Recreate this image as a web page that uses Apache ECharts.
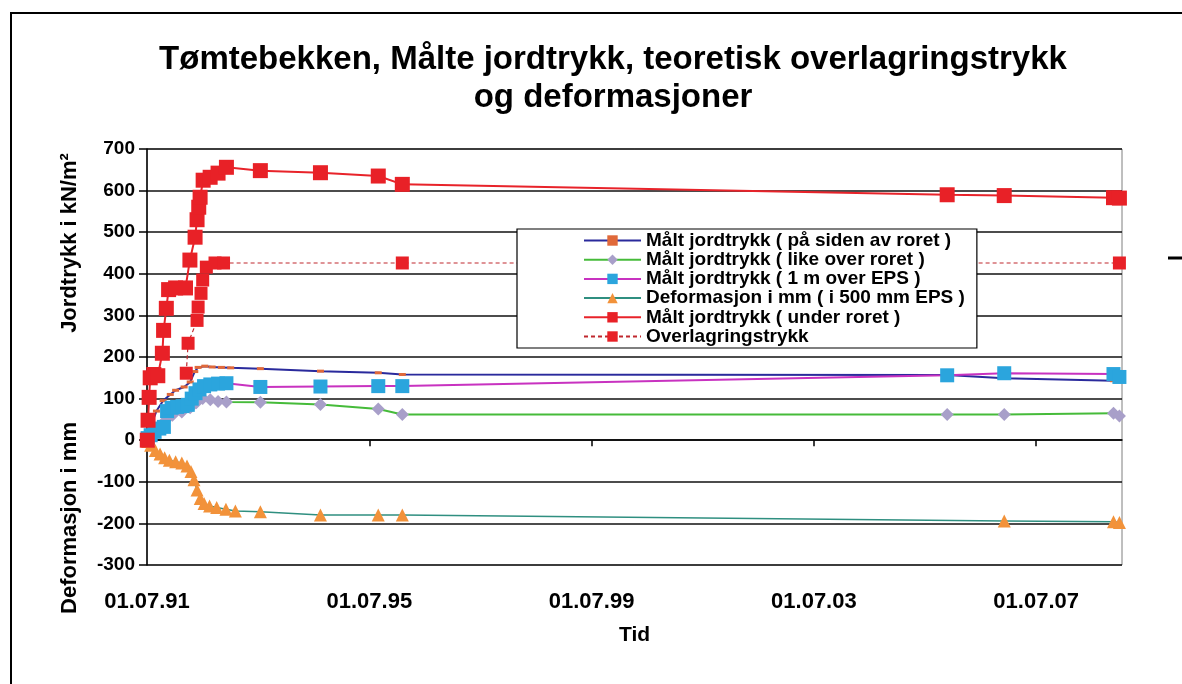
<!DOCTYPE html>
<html>
<head>
<meta charset="utf-8">
<script src="https://cdn.jsdelivr.net/npm/echarts@6/dist/echarts.min.js"></script>
<style>
  html, body { margin: 0; padding: 0; background: #fff; }
  #chart { width: 1182px; height: 684px; }
</style>
</head>
<body>
<div id="chart"></div>
<script>
// Time axis: days counted from 01.07.1991, major step of four years (1461 days)
const AXIS_START = '1991-07-01';
const AXIS_END = '2009-01-15';
const tickDays = [0, 1461, 2922, 4383, 5844];
const tickLabels = ['01.07.91', '01.07.95', '01.07.99', '01.07.03', '01.07.07'];

// Målt jordtrykk ( på siden av roret )
const sideDates = ['1991-07-05', '1991-08-01', '1991-09-01', '1991-10-15', '1991-12-01', '1992-01-05', '1992-03-01', '1992-04-10', '1992-05-10', '1992-06-01', '1992-07-15', '1992-09-01', '1992-11-01', '1993-01-01', '1993-07-15', '1994-08-14', '1995-08-29', '1996-02-03', '2005-11-23', '2006-12-03', '2008-11-20', '2008-12-29'];
const sideValues = [0, 40, 70, 95, 110, 120, 128, 140, 165, 175, 178, 176, 175, 174, 172, 166, 162, 158, 157, 149, 143, 141];

// Målt jordtrykk ( like over roret )
const aboveDates = ['1991-07-05', '1991-08-10', '1991-09-20', '1991-11-01', '1991-12-15', '1992-02-15', '1992-04-10', '1992-05-20', '1992-07-01', '1992-08-20', '1992-10-10', '1992-12-04', '1993-07-15', '1994-08-14', '1995-08-29', '1996-02-03', '2005-11-23', '2006-12-03', '2008-11-20', '2008-12-29'];
const aboveValues = [-8, 10, 30, 48, 60, 68, 78, 90, 100, 97, 93, 92, 91, 86, 75, 62, 62, 62, 65, 58];

// Målt jordtrykk ( 1 m over EPS )
const epsDates = ['1991-07-05', '1991-07-25', '1991-08-20', '1991-09-20', '1991-10-20', '1991-11-10', '1991-12-10', '1992-01-15', '1992-02-20', '1992-03-25', '1992-04-20', '1992-05-15', '1992-06-10', '1992-07-10', '1992-08-20', '1992-10-10', '1992-12-04', '1993-07-15', '1994-08-14', '1995-08-29', '1996-02-03', '2005-11-23', '2006-12-03', '2008-11-20', '2008-12-29'];
const epsValues = [5, 12, 20, 28, 32, 70, 78, 80, 82, 85, 100, 113, 122, 130, 134, 136, 137, 128, 129, 130, 130, 156, 161, 159, 152];

// Deformasjon i mm ( i 500 mm EPS )
const deformDates = ['1991-07-05', '1991-07-25', '1991-08-25', '1991-09-25', '1991-10-25', '1991-11-25', '1992-01-05', '1992-02-15', '1992-03-20', '1992-04-15', '1992-05-05', '1992-05-25', '1992-06-15', '1992-07-10', '1992-08-15', '1992-10-01', '1992-12-01', '1993-02-01', '1993-07-15', '1994-08-14', '1995-08-29', '1996-02-03', '2006-12-03', '2008-11-20', '2008-12-29'];
const deformValues = [-3, -12, -25, -33, -42, -48, -52, -55, -62, -75, -95, -120, -140, -152, -158, -162, -166, -170, -172, -180, -180, -180, -194, -196, -198];

// Målt jordtrykk ( under roret )
const underDates = ['1991-07-03', '1991-07-08', '1991-07-15', '1991-07-22', '1991-08-15', '1991-09-10', '1991-10-10', '1991-10-18', '1991-11-05', '1991-11-20', '1992-01-05', '1992-03-10', '1992-04-08', '1992-05-12', '1992-05-25', '1992-06-05', '1992-06-14', '1992-07-04', '1992-08-19', '1992-10-10', '1992-12-04', '1993-07-15', '1994-08-14', '1995-08-29', '1996-02-03', '2005-11-23', '2006-12-03', '2008-11-20', '2008-12-29'];
const underValues = [0, 48, 103, 150, 158, 155, 209, 264, 317, 362, 366, 366, 433, 488, 530, 560, 584, 625, 632, 642, 656, 648, 643, 635, 615, 590, 588, 583, 582];

// Overlagringstrykk (teoretisk)
const overburdenDates = ['1992-03-15', '1992-03-27', '1992-05-25', '1992-06-01', '1992-06-20', '1992-07-01', '1992-07-25', '1992-09-20', '1992-11-15', '1996-02-03', '2008-12-29'];
const overburdenValues = [161, 233, 288, 320, 353, 385, 416, 426, 426, 426, 426];

const seriesNames = [
  'Målt jordtrykk ( på siden av roret )',
  'Målt jordtrykk ( like over roret )',
  'Målt jordtrykk ( 1 m over EPS )',
  'Deformasjon i mm ( i 500 mm EPS )',
  'Målt jordtrykk ( under roret )',
  'Overlagringstrykk'
];

const FONT = "'Liberation Sans', Arial, Helvetica, sans-serif";
const DAY = 86400000;
const t0 = Date.parse(AXIS_START + 'T00:00:00Z');
function dayOffset(s) { return Math.round((Date.parse(s + 'T00:00:00Z') - t0) / DAY); }
function pairs(dates, values) { return dates.map((d, i) => [dayOffset(d), values[i]]); }
const xMax = dayOffset(AXIS_END);

function lineSeries(name, dates, values, lineColor, lineWidth, symbolColor, symbol, size, dashed) {
  return {
    name: name,
    type: 'line',
    data: pairs(dates, values),
    symbol: symbol,
    symbolSize: size,
    showSymbol: true,
    clip: false,
    lineStyle: { color: lineColor, width: lineWidth, type: dashed ? [4, 3] : 'solid' },
    itemStyle: { color: symbolColor, borderWidth: 0 },
    emphasis: { disabled: true }
  };
}

const chart = echarts.init(document.getElementById('chart'), null, { renderer: 'canvas' });

chart.setOption({
  animation: false,
  backgroundColor: '#fff',
  grid: {
    left: 147, right: 60, top: 149, bottom: 119,
    show: true, borderColor: '#7f7f7f', borderWidth: 1, backgroundColor: 'transparent'
  },
  xAxis: [
    {
      type: 'value', min: 0, max: xMax, interval: 1461, position: 'bottom',
      axisLine: { show: false, onZero: false },
      axisTick: { show: false },
      splitLine: { show: false },
      axisLabel: {
        customValues: tickDays,
        formatter: function (v) { const i = tickDays.indexOf(v); return i >= 0 ? tickLabels[i] : ''; },
        fontFamily: FONT, fontWeight: 'bold', fontSize: 22, color: '#000', margin: 26
      },
      name: 'Tid', nameLocation: 'middle', nameGap: 60,
      nameTextStyle: { fontFamily: FONT, fontWeight: 'bold', fontSize: 21, color: '#000' }
    },
    {
      type: 'value', min: 0, max: xMax, interval: 1461, position: 'bottom',
      axisLine: { show: true, onZero: true, lineStyle: { color: '#000', width: 1.5 } },
      axisTick: { show: true, customValues: tickDays.slice(1), length: 6, lineStyle: { color: '#000', width: 1.5 } },
      axisLabel: { show: false },
      splitLine: { show: false }
    }
  ],
  yAxis: {
    type: 'value', min: -300, max: 700, interval: 100,
    axisLine: { show: true, onZero: false, lineStyle: { color: '#000', width: 1.5 } },
    axisTick: { show: true, length: 8, lineStyle: { color: '#000', width: 1.5 } },
    axisLabel: { fontFamily: FONT, fontWeight: 'bold', fontSize: 19, color: '#000', margin: 12 },
    splitLine: { show: true, lineStyle: { color: '#111', width: 1.5 } }
  },
  legend: {
    orient: 'vertical', left: 517, top: 229,
    data: seriesNames,
    backgroundColor: '#fff', borderColor: '#000', borderWidth: 1.2,
    padding: [2, 12, 2, 66],
    itemWidth: 57, itemHeight: 13, itemGap: 0.2,
    selectedMode: false,
    textStyle: { fontFamily: FONT, fontWeight: 'bold', fontSize: 19, color: '#000', lineHeight: 18.5 }
  },
  graphic: [
    { type: 'rect', z: -10, silent: true, shape: { x: 11, y: 13, width: 1200, height: 700 }, style: { fill: 'none', stroke: '#000', lineWidth: 2 } },
    { type: 'line', silent: true, shape: { x1: 1168, y1: 258, x2: 1182, y2: 258 }, style: { stroke: '#000', lineWidth: 3 } },
    {
      type: 'text', silent: true, x: 613, y: 41,
      style: {
        text: 'Tømtebekken, Målte jordtrykk, teoretisk overlagringstrykk\nog deformasjoner',
        align: 'center', verticalAlign: 'top', lineHeight: 38,
        font: 'bold 33px ' + FONT, fill: '#000'
      }
    },
    {
      type: 'text', silent: true, x: 70, y: 243, rotation: Math.PI / 2,
      style: { text: 'Jordtrykk i kN/m²', align: 'center', verticalAlign: 'middle', font: 'bold 22px ' + FONT, fill: '#000' }
    },
    {
      type: 'text', silent: true, x: 70, y: 518, rotation: Math.PI / 2,
      style: { text: 'Deformasjon i mm', align: 'center', verticalAlign: 'middle', font: 'bold 22px ' + FONT, fill: '#000' }
    }
  ],
  series: [
    lineSeries(seriesNames[0], sideDates, sideValues, '#2a2a9c', 2, '#e0693a', 'rect', [7, 3]),
    lineSeries(seriesNames[1], aboveDates, aboveValues, '#46bb3a', 2, '#a89fc9', 'diamond', 13),
    lineSeries(seriesNames[2], epsDates, epsValues, '#c832c0', 2, '#2ba5dd', 'rect', 14),
    lineSeries(seriesNames[3], deformDates, deformValues, '#2f8f80', 1.5, '#f2923a', 'triangle', 13),
    lineSeries(seriesNames[4], underDates, underValues, '#e8232a', 2, '#e82127', 'rect', 15),
    lineSeries(seriesNames[5], overburdenDates, overburdenValues, '#c0282e', 1.2, '#e82127', 'rect', 13, true)
  ]
});
</script>
</body>
</html>
